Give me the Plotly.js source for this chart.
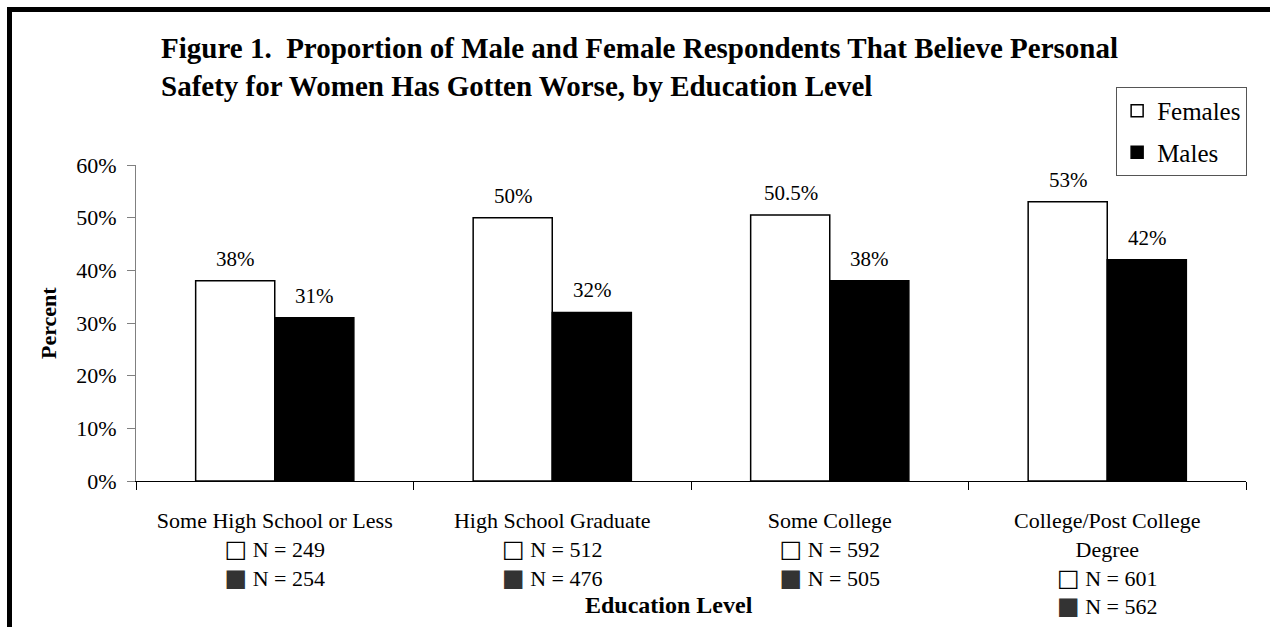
<!DOCTYPE html>
<html><head><meta charset="utf-8">
<script src="https://cdn.plot.ly/plotly-3.0.1.min.js"></script>
<style>
html,body{margin:0;padding:0;background:#fff;overflow:hidden;width:1270px;height:627px;}
#frame{position:absolute;left:7px;top:7px;width:1300px;height:700px;border-left:5px solid #000;border-top:5px solid #000;}
#chart{position:absolute;left:0;top:0;width:1270px;height:627px;}
</style></head><body>
<div id="frame"></div>
<div id="chart"></div>
<script>
const categories = ["Some High School or Less", "High School Graduate", "Some College", "College/Post College Degree"];
const categoryLabels = ["Some High School or Less", "High School Graduate", "Some College", "College/Post College<br>Degree"];
const femaleValues = [38, 50, 50.5, 53];
const maleValues = [31, 32, 38, 42];
const femaleN = [249, 512, 592, 601];
const maleN = [254, 476, 505, 562];
const yTicks = [0, 10, 20, 30, 40, 50, 60];

const FONT = "Liberation Serif, Times New Roman, serif";

const ticktext = categories.map((c, i) =>
  categoryLabels[i] +
  "<br><span style='font-family:DejaVu Sans;font-size:24px'>□</span> N = " + femaleN[i] +
  "<br><span style='font-family:DejaVu Sans;font-size:24px;color:#333'>■</span> N = " + maleN[i]);

const traces = [
  {type: "bar", name: "Females", x: categories, y: femaleValues, legendgroup: "f",
   marker: {color: "#ffffff", line: {color: "#000", width: 1.5}}, hoverinfo: "skip"},
  {type: "bar", name: "Males", x: categories, y: maleValues, legendgroup: "m",
   marker: {color: "#000000", line: {color: "#000", width: 1.5}}, hoverinfo: "skip"}
];

const annotations = [];
categories.forEach((c, i) => {
  annotations.push({x: i, y: femaleValues[i], xref: "x", yref: "y", text: femaleValues[i] + "%",
    showarrow: false, xshift: -39, yshift: 8, yanchor: "bottom", font: {family: FONT, size: 21, color: "#000"}});
  annotations.push({x: i, y: maleValues[i], xref: "x", yref: "y", text: maleValues[i] + "%",
    showarrow: false, xshift: 40, yshift: 8, yanchor: "bottom", font: {family: FONT, size: 21, color: "#000"}});
});
annotations.push({x: 0.48, y: -0.392, xref: "paper", yref: "paper", text: "<b>Education Level</b>",
  showarrow: false, xanchor: "center", yanchor: "middle", font: {family: FONT, size: 24, color: "#000"}});
annotations.push({x: -0.0793, y: 0.5, xref: "paper", yref: "paper", text: "<b>Percent</b>", textangle: -90,
  showarrow: false, xanchor: "center", yanchor: "middle", font: {family: FONT, size: 22, color: "#000"}});

const layout = {
  width: 1270, height: 627,
  margin: {l: 136, r: 24, t: 165, b: 146},
  paper_bgcolor: "rgba(0,0,0,0)", plot_bgcolor: "rgba(0,0,0,0)",
  font: {family: FONT, color: "#000", size: 21},
  title: {text: "Figure 1.  Proportion of Male and Female Respondents That Believe Personal<br>Safety for Women Has Gotten Worse, by Education Level",
    font: {family: FONT, size: 29, weight: "bold", color: "#000"},
    xref: "container", x: 0.1268, xanchor: "left", yref: "container", y: 0.9075, yanchor: "top"},
  barmode: "group", bargap: 0.43, bargroupgap: 0,
  showlegend: true,
  legend: {x: 0.883, y: 1.247, xanchor: "left", yanchor: "top", bgcolor: "#fff",
    bordercolor: "#555", borderwidth: 1, font: {family: FONT, size: 25, color: "#000"},
    traceorder: "grouped", tracegroupgap: 6},
  xaxis: {type: "category", tickvals: categories, ticktext: ticktext, tickson: "boundaries",
    ticks: "outside", ticklen: 8, tickcolor: "#000", showline: true, linecolor: "#000", linewidth: 1,
    ticklabelstandoff: 20,
    showgrid: false, zeroline: false, tickfont: {family: FONT, size: 22, color: "#000"}, fixedrange: true},
  yaxis: {range: [0, 60], tickvals: yTicks, ticktext: yTicks.map(v => v + "%"),
    ticks: "outside", ticklen: 8, tickcolor: "#808080", showline: true, linecolor: "#808080", linewidth: 1,
    ticklabelstandoff: 6,
    showgrid: false, zeroline: false, tickfont: {family: FONT, size: 22, color: "#000"}, fixedrange: true},
  annotations: annotations
};

Plotly.newPlot("chart", traces, layout, {displayModeBar: false, staticPlot: true});
</script>
</body></html>
